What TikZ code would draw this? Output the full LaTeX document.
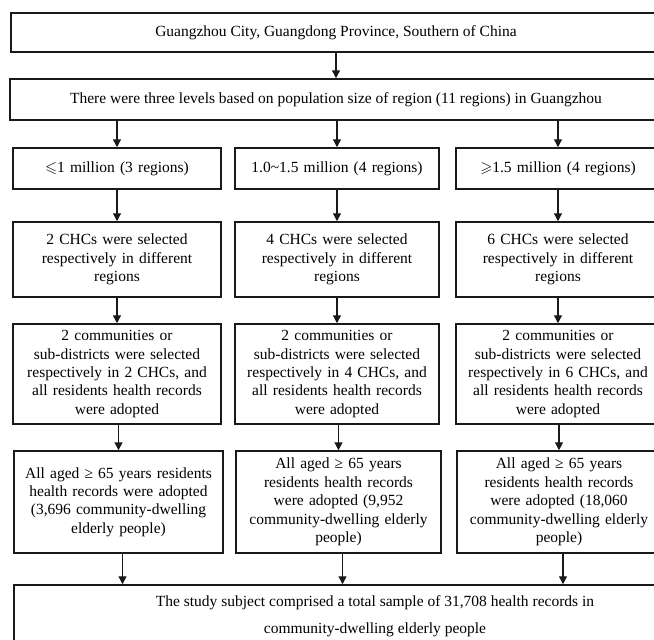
\documentclass[tikz,border=0pt]{standalone}
\usepackage{fontspec}
\usepackage{amssymb}
\setmainfont{Liberation Serif}
\usetikzlibrary{arrows.meta}
\pgfdeclarelayer{edgelayer}
\pgfdeclarelayer{nodelayer}
\pgfsetlayers{edgelayer,nodelayer,main}
\tikzset{font=\fontsize{15.5}{18.4}\selectfont}
\tikzstyle{wide}=[draw=black!90,line width=1.5pt,fill=white,align=center,inner sep=0pt]
\tikzstyle{box}=[wide,text width=196pt]
\tikzstyle{arr}=[line width=1.3pt,draw=black!90,-{Triangle[length=8pt,width=8pt]}]

\begin{document}
\begin{tikzpicture}[x=1pt,y=-1pt]
	\useasboundingbox (0,0) rectangle (654,640);
	\begin{pgfonlayer}{nodelayer}
		\node [style=wide, minimum width=650, minimum height=39] (0) at (336, 32.5) {Guangzhou City, Guangdong Province, Southern of China};
		\node [style=wide, minimum width=652, minimum height=41] (1) at (336, 99.5) {There were three levels based on population size of region (11 regions) in Guangzhou};
		% population levels
		\node [style=box, minimum width=208, minimum height=41] (2) at (117, 168.5) {$\leqslant$1 million (3 regions)};
		\node [style=box, minimum width=204, minimum height=41] (3) at (337, 168.5) {1.0\textasciitilde1.5 million (4 regions)};
		\node [style=box, minimum width=204, minimum height=41] (4) at (558, 168.5) {$\geqslant$1.5 million (4 regions)};
		% CHCs
		\node [style=box, minimum width=208, minimum height=75] (5) at (117, 259.5) {2 CHCs were selected\\respectively in different\\regions};
		\node [style=box, minimum width=204, minimum height=75] (6) at (337, 259.5) {4 CHCs were selected\\respectively in different\\regions};
		\node [style=box, minimum width=204, minimum height=75] (7) at (558, 259.5) {6 CHCs were selected\\respectively in different\\regions};
		% communities
		\node [style=box, minimum width=208, minimum height=100] (8) at (117, 374) {2 communities or\\sub-districts were selected\\respectively in 2 CHCs, and\\all residents health records\\were adopted};
		\node [style=box, minimum width=204, minimum height=100] (9) at (337, 374) {2 communities or\\sub-districts were selected\\respectively in 4 CHCs, and\\all residents health records\\were adopted};
		\node [style=box, minimum width=204, minimum height=100] (10) at (558, 374) {2 communities or\\sub-districts were selected\\respectively in 6 CHCs, and\\all residents health records\\were adopted};
		% aged >= 65
		\node [style=box, minimum width=209, minimum height=102] (11) at (118.5, 502) {All aged ≥ 65 years residents\\health records were adopted\\(3,696 community-dwelling\\elderly people)};
		\node [style=box, minimum width=205, minimum height=102] (12) at (338.5, 502) {All aged ≥ 65 years\\residents health records\\were adopted (9,952\\community-dwelling elderly\\people)};
		\node [style=box, minimum width=204, minimum height=102] (13) at (559, 502) {All aged ≥ 65 years\\residents health records\\were adopted (18,060\\community-dwelling elderly\\people)};
		\node [style=wide, minimum width=722, minimum height=62, font=\fontsize{15.5}{27}\selectfont] (14) at (375, 616) {The study subject comprised a total sample of 31,708 health records in\\community-dwelling elderly people};
	\end{pgfonlayer}
	\begin{pgfonlayer}{edgelayer}
		\draw [style=arr] (0.south) to (1.north);
		\draw [style=arr] (1.south -| 2.north) to (2.north);
		\draw [style=arr] (1.south -| 3.north) to (3.north);
		\draw [style=arr] (1.south -| 4.north) to (4.north);
		\draw [style=arr] (2.south) to (5.north);
		\draw [style=arr] (3.south) to (6.north);
		\draw [style=arr] (4.south) to (7.north);
		\draw [style=arr] (5.south) to (8.north);
		\draw [style=arr] (6.south) to (9.north);
		\draw [style=arr] (7.south) to (10.north);
		\draw [style=arr] (8.south -| 11.north) to (11.north);
		\draw [style=arr] (9.south -| 12.north) to (12.north);
		\draw [style=arr] (10.south -| 13.north) to (13.north);
		\draw [style=arr] ([xshift=4]11.south) to ([xshift=4]11.south |- 14.north);
		\draw [style=arr] ([xshift=4]12.south) to ([xshift=4]12.south |- 14.north);
		\draw [style=arr] ([xshift=4]13.south) to ([xshift=4]13.south |- 14.north);
	\end{pgfonlayer}
\end{tikzpicture}
\end{document}
